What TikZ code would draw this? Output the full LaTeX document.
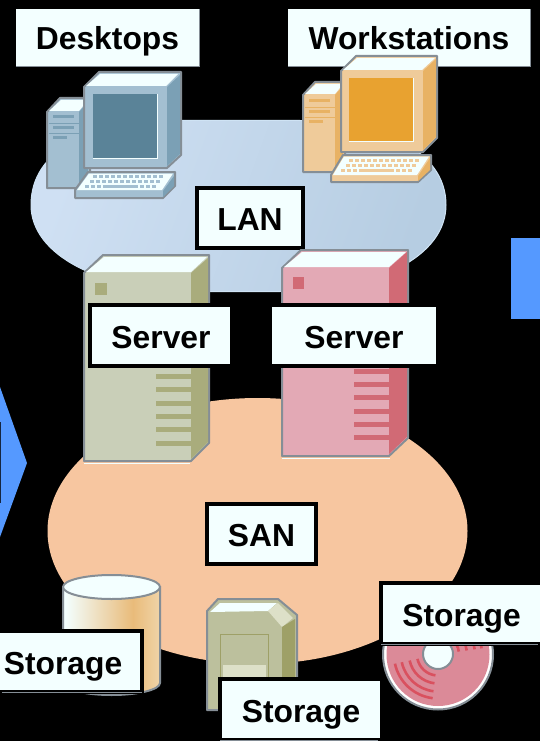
\documentclass[tikz,border=0pt]{standalone}
\usepackage{fontspec}
\setmainfont{Liberation Sans}
\begin{document}
\definecolor{labfill}{HTML}{F3FFFF}
\definecolor{edgegrey}{HTML}{858E96}
\definecolor{arrowblue}{HTML}{5599FF}
\definecolor{sanfill}{HTML}{F7C6A0}
\definecolor{lanA}{HTML}{CFE0F3}
\definecolor{lanB}{HTML}{B6CDE2}
\definecolor{lanrim}{HTML}{CFE3F4}
\definecolor{bluefront}{HTML}{A3BFD1}
\definecolor{blueside}{HTML}{7BA0B5}
\definecolor{bluescreen}{HTML}{5A8398}
\definecolor{orfront}{HTML}{EFCB9A}
\definecolor{orside}{HTML}{E8B264}
\definecolor{orscreen}{HTML}{E8A230}
\definecolor{olfront}{HTML}{C9CFB8}
\definecolor{olside}{HTML}{A9AC7C}
\definecolor{pkfront}{HTML}{E3A9B5}
\definecolor{pkside}{HTML}{D16A75}
\definecolor{cartfront}{HTML}{BCC09D}
\definecolor{cartside}{HTML}{9EA067}
\definecolor{cartlight}{HTML}{DDE0C8}
\definecolor{cdfill}{HTML}{DB8A98}
\definecolor{cdmark}{HTML}{D9515F}
\definecolor{cylpeak}{HTML}{E9BB7A}
\definecolor{cylend}{HTML}{F0D4A8}
\pgfdeclarehorizontalshading{cylshade}{100bp}{color(0bp)=(labfill); color(26bp)=(labfill); color(61bp)=(cylpeak); color(75bp)=(cylend); color(100bp)=(cylend)}
\begin{tikzpicture}[x=1pt,y=-1pt,
  lab/.style={font=\fontsize{31.8}{36}\selectfont\bfseries,fill=labfill,inner sep=0pt,text=black,text height=31pt,text depth=6pt},
  framed/.style={lab,draw=black,line width=4pt},
  solid part/.style={draw=edgegrey,line width=2pt,line join=round},
  thinedge/.style={edgegrey,line width=1pt}]
\useasboundingbox[fill=black] (0,0) rectangle (540,741);
% arrows at the frame edges
\fill[arrowblue] (0,387) -- (27,463) -- (0,537) -- cycle;
\fill[black!75!arrowblue] (0,422) rectangle (1,503);
\fill[arrowblue] (510.5,238) rectangle (540,319);
% clouds
\path[shade,left color=lanA,right color=lanB,shading angle=70,draw=lanrim,line width=1pt]
  (31,205) .. controls (31,150) and (90,120.5) .. (180,120.5) -- (300,120.5)
  .. controls (380,120.5) and (446,150) .. (446,205)
  .. controls (446,255) and (380,291.5) .. (280,291.5) -- (200,291.5)
  .. controls (100,291.5) and (31,255) .. (31,205) -- cycle;
\fill[sanfill] (257.5,531) ellipse [x radius=210,y radius=133];
% top labels
\node[lab,minimum width=183,minimum height=57] (desk) at (107.5,37.5) {Desktops};
\node[lab,minimum width=242,minimum height=57] (work) at (409,37.5) {Workstations};
\draw[thinedge] (desk.south west) -- (desk.south east) -- (desk.north east);
\draw[thinedge] (work.south west) -- (work.south east) -- (work.north east);
% desktop computer
\filldraw[solid part,fill=bluefront] (47,112) -- (60,98) -- (90,98) -- (90,188) -- (47,188) -- cycle;
\fill[labfill] (49,111) -- (61,100) -- (88,100) -- (79,111) -- cycle;
\fill[blueside] (79,112) -- (88,102) -- (88,186) -- (79,186) -- cycle;
\foreach \yy/\xe in {117/74,128/74,137/67} \fill[blueside] (53,\yy-1.5) rectangle (\xe,\yy+1.5);
\draw[blueside,line width=.7pt] (49,123) -- (79,123) (49,133) -- (79,133);
\filldraw[solid part,fill=bluefront] (84,87) -- (99,72) -- (181,72) -- (181,155) -- (167,168) -- (84,168) -- cycle;
\fill[labfill] (86,86) -- (100,74) -- (178,74) -- (166,86) -- cycle;
\fill[blueside] (167,87) -- (180,75) -- (180,154) -- (167,166) -- cycle;
\fill[bluescreen] (93,94) rectangle (157,158);
\draw[labfill,line width=1pt] (157.5,94) -- (157.5,158.5) -- (93,158.5);
\filldraw[solid part,fill=bluefront] (88,172) -- (175,172) -- (175,186) -- (163,198) -- (75,198) -- (75,190) -- cycle;
\fill[labfill] (89,173.5) -- (173,173.5) -- (162,190) -- (77,190) -- cycle;
\fill[blueside] (163,191) -- (174,176) -- (174,186) -- (163,197) -- cycle;
\foreach \xx in {93,99,...,161} \fill[bluefront] (\xx,175) rectangle ++(3.5,2.5);
\foreach \xx in {90,96,...,158} \fill[bluefront] (\xx,180) rectangle ++(3.5,2.5);
\foreach \xx in {85,91,97,140,146,152} \fill[bluefront] (\xx,185) rectangle ++(3.5,2.5);
\fill[bluefront] (103,185) rectangle (138,187.5);
% workstation
\filldraw[solid part,fill=orfront] (303,95) -- (315,82) -- (345,82) -- (345,172) -- (303,172) -- cycle;
\fill[labfill] (305,94) -- (316,84) -- (343,84) -- (335,94) -- cycle;
\fill[orside] (335,95) -- (343,86) -- (343,170) -- (335,170) -- cycle;
\foreach \yy/\xe in {101/330,112/330,122/323} \fill[orside] (309,\yy-1.5) rectangle (\xe,\yy+1.5);
\draw[orside,line width=.7pt] (305,107) -- (335,107) (305,117) -- (335,117);
\filldraw[solid part,fill=orfront] (341,71) -- (356,56) -- (437,56) -- (437,138) -- (423,152) -- (341,152) -- cycle;
\fill[labfill] (343,70) -- (357,58) -- (435,58) -- (422,70) -- cycle;
\fill[orside] (423,71) -- (436,59) -- (436,137) -- (423,150) -- cycle;
\fill[orscreen] (349,78) rectangle (413,141);
\draw[labfill,line width=1pt] (413.5,78) -- (413.5,141.5) -- (349,141.5);
\filldraw[solid part,fill=orfront] (343,155) -- (431,155) -- (431,170) -- (418,182) -- (331,182) -- (331,175) -- cycle;
\fill[labfill] (344,156.5) -- (429,156.5) -- (417,175) -- (333,175) -- cycle;
\fill[orside] (418,176) -- (430,158) -- (430,170) -- (418,181) -- cycle;
\foreach \xx in {349,355,...,417} \fill[orfront] (\xx,159) rectangle ++(3.5,2.5);
\foreach \xx in {346,352,...,414} \fill[orfront] (\xx,164) rectangle ++(3.5,2.5);
\foreach \xx in {341,347,353,396,402,408} \fill[orfront] (\xx,169) rectangle ++(3.5,2.5);
\fill[orfront] (359,169) rectangle (394,171.5);
% LAN
\node[framed,minimum width=106,minimum height=60] (lan) at (250,218) {LAN};
% servers
\draw[labfill,line width=1pt] (84,463) -- (190,463);
\filldraw[solid part,fill=olfront] (84,273) -- (103,255) -- (209,255) -- (209,443) -- (191,461) -- (84,461) -- cycle;
\fill[labfill] (86,272) -- (104,257) -- (207,257) -- (191,272) -- cycle;
\fill[olside] (191,273) -- (208,258) -- (208,442) -- (191,459) -- cycle;
\fill[olside] (95,283) rectangle (107,295);
\foreach \yy in {376,389,403,416,429,443} \fill[olside] (156,\yy-2.5) rectangle (191,\yy+2.5);
\draw[labfill,line width=1pt] (282,458) -- (390,458);
\filldraw[solid part,fill=pkfront] (282,268) -- (301,250) -- (408,250) -- (408,438) -- (389,456) -- (282,456) -- cycle;
\fill[labfill] (284,267) -- (302,252) -- (406,252) -- (389,267) -- cycle;
\fill[pkside] (389,268) -- (407,252) -- (407,437) -- (389,454) -- cycle;
\fill[pkside] (293,277) rectangle (304,289);
\foreach \yy in {371,384,397,411,424,437} \fill[pkside] (354,\yy-2.5) rectangle (389,\yy+2.5);
\node[framed,minimum width=142,minimum height=61] (srvA) at (161,335.5) {Server};
\node[lab,minimum width=164,minimum height=57] (srvB) at (354,335.5) {Server};
\draw[black,line width=4pt] (srvB.north west) ++(0,-2) -- ++(164,0);
\draw[black,line width=4pt] (srvB.south west) ++(0,2) -- ++(164,0);
% SAN
\node[framed,minimum width=109,minimum height=60] (san) at (261.5,534) {SAN};
% cylinder
\path[draw=edgegrey,line width=2pt,shade,shading=cylshade]
  (63,587) -- (63,683) arc[start angle=180,end angle=0,x radius=48.5,y radius=12] -- (160,587) -- cycle;
\filldraw[solid part,fill=labfill] (111.5,587) ellipse [x radius=48.5,y radius=12];
% cartridge
\filldraw[solid part,fill=cartfront] (207,611) -- (218,599) -- (278,599) -- (297,615) -- (297,710) -- (207,710) -- cycle;
\fill[labfill] (210,612) -- (220,603) -- (277,603) -- (268,611) -- cycle;
\fill[cartlight] (268,611) -- (278,603) -- (293,618) -- (282,627) -- cycle;
\fill[cartside] (282,627) -- (295,619) -- (295,708) -- (282,708) -- cycle;
\draw[cartside,line width=1pt] (220,677) -- (220,634) -- (268,634) -- (268,677);
\fill[cartlight] (223,665) rectangle (266,677);
% disc
\filldraw[draw=edgegrey,line width=2pt,fill=white] (438,654.5) circle [radius=55];
\fill[cdfill] (438,654.5) circle [radius=51.5];
\foreach \rr in {21,29,37,44} {
  \draw[cdmark,line width=2.6pt] ([shift={(168:\rr)}]438,654.5) arc[start angle=168,end angle=97,radius=\rr];
  \draw[cdmark,line width=2.6pt] ([shift={(-8:\rr)}]438,654.5) arc[start angle=-8,delta angle=-40,radius=\rr];
}
\filldraw[draw=edgegrey,line width=2pt,fill=labfill] (438,654) circle [radius=15];
% storage labels
\node[framed,minimum width=158,minimum height=61] (stA) at (63,661.5) {Storage};
\node[framed,minimum width=162,minimum height=61] (stB) at (301,709.5) {Storage};
\node[framed,minimum width=161,minimum height=61] (stC) at (461.5,613.5) {Storage};
\draw[thinedge] (stA.south east) ++(-2,-2) -- ++(-140,0);
\draw[thinedge] (stB.south west) ++(2,-2) -- ++(158,0);
\draw[thinedge] (stC.south west) ++(2,-2) -- ++(157,0);
\end{tikzpicture}
\end{document}
